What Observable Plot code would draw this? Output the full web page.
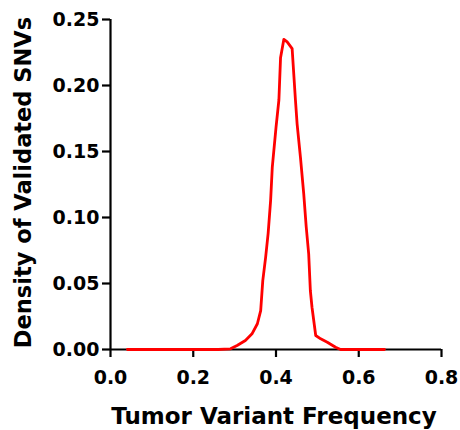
<!DOCTYPE html>
<html>
<head>
<meta charset="utf-8">
<script src="https://cdn.jsdelivr.net/npm/d3@7"></script>
<script src="https://cdn.jsdelivr.net/npm/@observablehq/plot@0.6"></script>
<style>
  html, body { margin: 0; padding: 0; background: #fff; }
  svg { font-family: "DejaVu Sans", sans-serif; }
</style>
</head>
<body>
<div id="chart"></div>
<script>
const frequency = [0.041, 0.26, 0.290, 0.306, 0.326, 0.342, 0.355, 0.363, 0.368, 0.375, 0.381, 0.387, 0.391, 0.400, 0.407, 0.411, 0.419, 0.427, 0.439, 0.447, 0.451, 0.459, 0.467, 0.473, 0.479, 0.483, 0.487, 0.496, 0.508, 0.524, 0.544, 0.556, 0.662];
const density   = [0, 0, 0.0005, 0.003, 0.0068, 0.0119, 0.0195, 0.0295, 0.052, 0.070, 0.088, 0.113, 0.138, 0.168, 0.189, 0.221, 0.235, 0.233, 0.228, 0.189, 0.171, 0.146, 0.118, 0.093, 0.0725, 0.0447, 0.032, 0.0106, 0.0081, 0.0055, 0.0017, 0, 0];
const xTicks = [0, 0.2, 0.4, 0.6, 0.8];
const yTicks = [0, 0.05, 0.10, 0.15, 0.20, 0.25];
const xLabel = "Tumor Variant Frequency";
const yLabel = "Density of Validated SNVs";

const data = frequency.map((f, i) => ({f, d: density[i]}));

const chart = Plot.plot({
  width: 460,
  height: 430,
  marginLeft: 110,
  marginRight: 19,
  marginTop: 19,
  marginBottom: 81,
  style: {fontFamily: "DejaVu Sans, sans-serif", color: "#000", background: "#fff"},
  x: {domain: [0, 0.8]},
  y: {domain: [0, 0.25]},
  marks: [
    Plot.axisX({ticks: xTicks, tickFormat: d3.format(".1f"), tickSize: 8, tickPadding: 13, strokeWidth: 2.2, fontSize: 19, fontWeight: "bold", label: null}),
    Plot.axisY({ticks: yTicks, tickFormat: d3.format(".2f"), tickSize: 8, tickPadding: 3, strokeWidth: 2.2, fontSize: 19, fontWeight: "bold", label: null}),
    Plot.ruleY([0], {strokeWidth: 2.2}),
    Plot.ruleX([0], {strokeWidth: 2.2}),
    Plot.line(data, {x: "f", y: "d", stroke: "#ff0000", strokeWidth: 2.8}),
    Plot.text([xLabel], {frameAnchor: "bottom", dx: -2, dy: 74, fontSize: 23, fontWeight: "bold", fill: "#000", lineAnchor: "bottom"}),
    Plot.text([yLabel], {frameAnchor: "left", dx: -87, dy: -2, rotate: -90, textAnchor: "middle", fontSize: 22.5, fontWeight: "bold", fill: "#000"})
  ]
});
document.getElementById("chart").appendChild(chart);
</script>
</body>
</html>
